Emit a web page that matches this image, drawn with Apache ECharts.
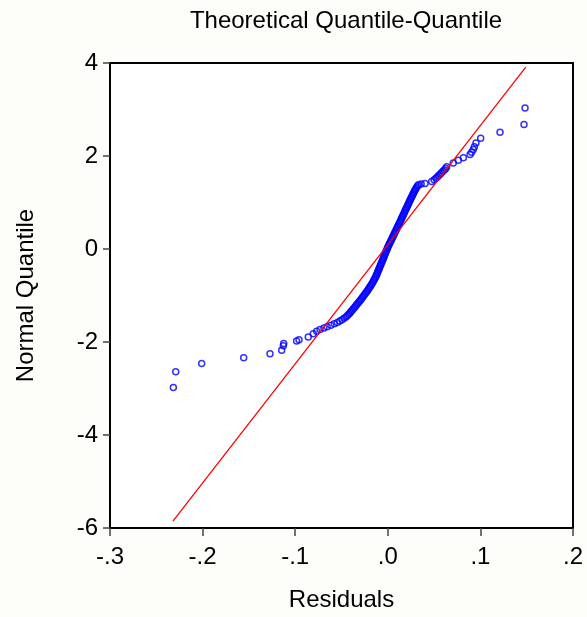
<!DOCTYPE html>
<html>
<head>
<meta charset="utf-8">
<script src="https://cdn.jsdelivr.net/npm/echarts@6/dist/echarts.min.js"></script>
<style>
html,body{margin:0;padding:0;background:#fdfdf9;}
#c{width:587px;height:617px;}
</style>
</head>
<body>
<div id="c"></div>
<script>
// Residuals (sorted)
const residuals = [
 -0.2316,-0.2290,-0.2010,-0.1556,-0.1272,-0.1146,-0.1128,-0.1124,-0.0985,-0.0959,-0.0859,-0.0805,-0.0768,-0.0732,
 -0.0690,-0.0655,-0.0615,-0.0578,-0.0545,-0.0518,-0.0494,-0.0472,-0.0452,-0.0435,-0.0420,-0.0407,-0.0395,-0.0383,
 -0.0370,-0.0357,-0.0345,-0.0333,-0.0320,-0.0308,-0.0296,-0.0284,-0.0273,-0.0262,-0.0251,-0.0240,-0.0229,-0.0218,
 -0.0208,-0.0198,-0.0188,-0.0178,-0.0169,-0.0160,-0.0152,-0.0144,-0.0136,-0.0129,-0.0122,-0.0116,-0.0110,-0.0104,
 -0.0097,-0.0091,-0.0085,-0.0079,-0.0073,-0.0066,-0.0060,-0.0054,-0.0048,-0.0042,-0.0036,-0.0030,-0.0024,-0.0018,
 -0.0012,-0.0005,
 0.0000,0.0008,0.0015,0.0022,0.0030,0.0037,0.0044,0.0051,0.0058,0.0066,0.0073,0.0080,0.0088,0.0095,0.0102,0.0110,
 0.0117,0.0124,0.0131,0.0138,0.0145,0.0152,0.0159,0.0166,0.0173,0.0180,0.0187,0.0194,0.0201,0.0208,0.0215,0.0222,
 0.0229,0.0236,0.0243,0.0250,0.0258,0.0265,0.0272,0.0280,0.0287,0.0295,0.0303,0.0312,0.0322,0.0333,
 0.0360,0.0402,0.0474,0.0500,0.0520,0.0535,0.0550,0.0565,0.0580,0.0595,0.0610,0.0625,0.0636,
 0.0707,0.0762,0.0816,0.0888,0.0905,0.0923,0.0935,0.0952,0.1003,0.1212,0.1471,0.1482
];
// Normal quantiles
const normalQuantile = [
 -2.98,-2.64,-2.46,-2.34,-2.25,-2.18,-2.08,-2.03,-1.98,-1.95,-1.89,-1.82,-1.77,-1.73,
 -1.70,-1.67,-1.64,-1.61,-1.58,-1.55,-1.52,-1.49,-1.46,-1.43,-1.40,-1.37,-1.34,-1.31,
 -1.28,-1.25,-1.22,-1.19,-1.16,-1.13,-1.10,-1.07,-1.04,-1.01,-0.98,-0.95,-0.92,-0.89,
 -0.86,-0.83,-0.80,-0.77,-0.74,-0.71,-0.68,-0.65,-0.62,-0.59,-0.56,-0.53,-0.50,-0.47,
 -0.44,-0.41,-0.38,-0.35,-0.32,-0.29,-0.26,-0.23,-0.20,-0.17,-0.14,-0.11,-0.08,-0.05,
 -0.02,0.01,
 0.04,0.07,0.10,0.13,0.16,0.19,0.22,0.25,0.28,0.31,0.34,0.37,0.40,0.43,0.46,0.49,
 0.52,0.55,0.58,0.61,0.64,0.67,0.70,0.73,0.76,0.79,0.82,0.85,0.88,0.91,0.94,0.97,
 1.00,1.03,1.06,1.09,1.12,1.15,1.18,1.21,1.24,1.27,1.30,1.33,1.36,1.38,
 1.40,1.41,1.45,1.49,1.52,1.55,1.58,1.61,1.64,1.67,1.70,1.73,1.77,
 1.85,1.91,1.96,2.03,2.08,2.14,2.20,2.28,2.38,2.51,2.68,3.03
];
// Reference line end points
const lineX = [-0.232, 0.149];
const lineY = [-5.85, 3.91];
// Tick labels
const xTicks = {'-0.3':'-.3','-0.2':'-.2','-0.1':'-.1','0':'.0','0.1':'.1','0.2':'.2'};

const pts = residuals.map((x, i) => [x, normalQuantile[i]]);
const linePts = lineX.map((x, i) => [x, lineY[i]]);
const FONT = 'Liberation Sans, Arial, sans-serif';

const chart = echarts.init(document.getElementById('c'), null, {renderer: 'canvas'});
chart.setOption({
  animation: false,
  backgroundColor: '#fdfdf9',
  title: {
    text: 'Theoretical Quantile-Quantile',
    left: 341, top: 4, textAlign: 'center',
    textStyle: {fontFamily: FONT, fontSize: 24, fontWeight: 'normal', color: '#000'}
  },
  grid: {
    left: 110, right: 14, top: 63, bottom: 89,
    show: true, backgroundColor: '#ffffff', borderColor: '#000', borderWidth: 2
  },
  xAxis: {
    type: 'value', min: -0.3, max: 0.2, interval: 0.1,
    name: 'Residuals', nameLocation: 'middle', nameGap: 60,
    nameTextStyle: {fontFamily: FONT, fontSize: 24, color: '#000'},
    axisLine: {show: true, onZero: false, lineStyle: {color: '#000', width: 2}},
    axisTick: {show: true, inside: false, length: 8, lineStyle: {color: '#444', width: 1.5}},
    splitLine: {show: false},
    axisLabel: {
      fontFamily: FONT, fontSize: 24, color: '#000', margin: 17,
      formatter: v => xTicks[String(Math.round(v * 10) / 10)] ?? String(v)
    }
  },
  yAxis: {
    type: 'value', min: -6, max: 4, interval: 2,
    name: 'Normal Quantile', nameLocation: 'middle', nameGap: 72,
    nameTextStyle: {fontFamily: FONT, fontSize: 24, color: '#000'},
    axisLine: {show: true, onZero: false, lineStyle: {color: '#000', width: 2}},
    axisTick: {show: true, inside: false, length: 7, lineStyle: {color: '#444', width: 1.5}},
    splitLine: {show: false},
    axisLabel: {fontFamily: FONT, fontSize: 24, color: '#000', margin: 12}
  },
  series: [
    {
      type: 'scatter', data: pts, symbol: 'circle', symbolSize: 6,
      itemStyle: {color: 'rgba(0,0,0,0)', borderColor: '#0000ff', borderWidth: 1.5},
      z: 2
    },
    {
      type: 'line', data: linePts, showSymbol: false, symbol: 'none',
      lineStyle: {color: '#ff0000', width: 1.3}, z: 3
    }
  ]
});
</script>
</body>
</html>
